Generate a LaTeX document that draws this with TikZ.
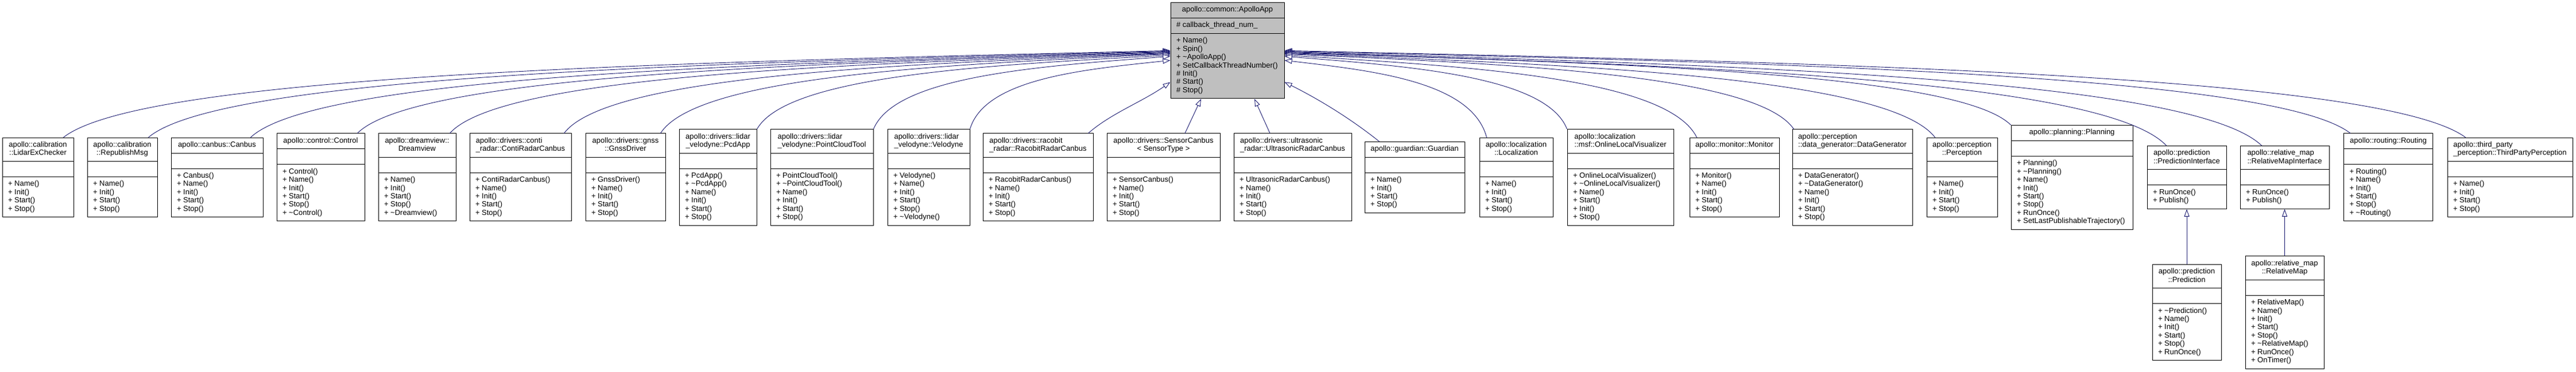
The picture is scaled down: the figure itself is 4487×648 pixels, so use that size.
\documentclass[tikz,border=0pt]{standalone}
\usepackage{fontspec}
\setmainfont{Liberation Sans}
\usetikzlibrary{shapes.multipart,arrows.meta}

\definecolor{edgeblue}{RGB}{25,25,112}
\definecolor{basegray}{RGB}{191,191,191}
\newcommand{\clsfont}{\fontsize{13pt}{14.4pt}\selectfont}
\newcommand{\cname}[1]{\begin{tabular}{@{}c@{}}#1\end{tabular}}
\newcommand{\lname}[1]{\begin{tabular}{@{}l@{}}#1\end{tabular}}
\newcommand{\mlist}[1]{\begin{tabular}{@{}l@{}}#1\end{tabular}}

\tikzset{
    cls/.style={rectangle split, rectangle split parts=3, draw=black, line width=1pt,
        fill=white, font=\clsfont, inner xsep=10pt, inner ysep=5.8pt,
        rectangle split part align={center,left,left}},
    inh/.style={edgeblue, line width=0.9pt,
        -{Triangle[open, fill=white, length=13pt, width=9pt]}}
}

\begin{document}
\begin{tikzpicture}[x=1pt, y=1pt]
    \path[use as bounding box, fill=white] (0,0) rectangle (4487,648);

    % base class
    \node[cls, fill=basegray, minimum width=198pt] (app) at (2138,559.7)
        {apollo::common::ApolloApp\strut
        \nodepart{second}\# callback\_thread\_num\_\strut
        \nodepart{third}\mlist{+ Name()\\+ Spin()\\+ \textasciitilde ApolloApp()\\+ SetCallbackThreadNumber()\\\# Init()\\\# Start()\\\# Stop()}};

    % derived classes
    \node[cls, minimum width=124pt] (lidar) at (66,338.5)
        {\cname{apollo::calibration\\::LidarExChecker}\nodepart{second}\strut
        \nodepart{third}\mlist{+ Name()\\+ Init()\\+ Start()\\+ Stop()}};
    \node[cls, minimum width=122pt] (repub) at (213,338.5)
        {\cname{apollo::calibration\\::RepublishMsg}\nodepart{second}\strut
        \nodepart{third}\mlist{+ Name()\\+ Init()\\+ Start()\\+ Stop()}};
    \node[cls, minimum width=160pt] (canbus) at (378,338.5)
        {apollo::canbus::Canbus\strut\nodepart{second}\strut
        \nodepart{third}\mlist{+ Canbus()\\+ Name()\\+ Init()\\+ Start()\\+ Stop()}};
    \node[cls, minimum width=153pt] (control) at (558.5,338.5)
        {apollo::control::Control\strut\nodepart{second}\strut
        \nodepart{third}\mlist{+ Control()\\+ Name()\\+ Init()\\+ Start()\\+ Stop()\\+ \textasciitilde Control()}};
    \node[cls, minimum width=135pt] (dream) at (726.5,338.5)
        {\cname{apollo::dreamview::\\Dreamview}\nodepart{second}\strut
        \nodepart{third}\mlist{+ Name()\\+ Init()\\+ Start()\\+ Stop()\\+ \textasciitilde Dreamview()}};
    \node[cls, minimum width=177pt] (conti) at (906.5,338.5)
        {\lname{apollo::drivers::conti\\\_radar::ContiRadarCanbus}\nodepart{second}\strut
        \nodepart{third}\mlist{+ ContiRadarCanbus()\\+ Name()\\+ Init()\\+ Start()\\+ Stop()}};
    \node[cls, minimum width=139pt] (gnss) at (1089.5,338.5)
        {\cname{apollo::drivers::gnss\\::GnssDriver}\nodepart{second}\strut
        \nodepart{third}\mlist{+ GnssDriver()\\+ Name()\\+ Init()\\+ Start()\\+ Stop()}};
    \node[cls, minimum width=135pt] (pcd) at (1250.5,338.5)
        {\cname{apollo::drivers::lidar\\\_velodyne::PcdApp}\nodepart{second}\strut
        \nodepart{third}\mlist{+ PcdApp()\\+ \textasciitilde PcdApp()\\+ Name()\\+ Init()\\+ Start()\\+ Stop()}};
    \node[cls, minimum width=179pt] (pcl) at (1431.5,338.5)
        {\lname{apollo::drivers::lidar\\\_velodyne::PointCloudTool}\nodepart{second}\strut
        \nodepart{third}\mlist{+ PointCloudTool()\\+ \textasciitilde PointCloudTool()\\+ Name()\\+ Init()\\+ Start()\\+ Stop()}};
    \node[cls, minimum width=143pt] (velo) at (1617.5,338.5)
        {\lname{apollo::drivers::lidar\\\_velodyne::Velodyne}\nodepart{second}\strut
        \nodepart{third}\mlist{+ Velodyne()\\+ Name()\\+ Init()\\+ Start()\\+ Stop()\\+ \textasciitilde Velodyne()}};
    \node[cls, minimum width=192pt] (racobit) at (1808,338.5)
        {\lname{apollo::drivers::racobit\\\_radar::RacobitRadarCanbus}\nodepart{second}\strut
        \nodepart{third}\mlist{+ RacobitRadarCanbus()\\+ Name()\\+ Init()\\+ Start()\\+ Stop()}};
    \node[cls, minimum width=197pt] (sensor) at (2026.5,338.5)
        {\cname{apollo::drivers::SensorCanbus\\< SensorType >}\nodepart{second}\strut
        \nodepart{third}\mlist{+ SensorCanbus()\\+ Name()\\+ Init()\\+ Start()\\+ Stop()}};
    \node[cls, minimum width=205pt] (ultra) at (2251.5,338.5)
        {\lname{apollo::drivers::ultrasonic\\\_radar::UltrasonicRadarCanbus}\nodepart{second}\strut
        \nodepart{third}\mlist{+ UltrasonicRadarCanbus()\\+ Name()\\+ Init()\\+ Start()\\+ Stop()}};
    \node[cls, minimum width=174pt] (guard) at (2464,338.5)
        {apollo::guardian::Guardian\strut\nodepart{second}\strut
        \nodepart{third}\mlist{+ Name()\\+ Init()\\+ Start()\\+ Stop()}};
    \node[cls, minimum width=128pt] (local) at (2641,338.5)
        {\cname{apollo::localization\\::Localization}\nodepart{second}\strut
        \nodepart{third}\mlist{+ Name()\\+ Init()\\+ Start()\\+ Stop()}};
    \node[cls, minimum width=185pt] (online) at (2822.5,338.5)
        {\lname{apollo::localization\\::msf::OnlineLocalVisualizer}\nodepart{second}\strut
        \nodepart{third}\mlist{+ OnlineLocalVisualizer()\\+ \textasciitilde OnlineLocalVisualizer()\\+ Name()\\+ Start()\\+ Init()\\+ Stop()}};
    \node[cls, minimum width=156pt] (monitor) at (3021,338.5)
        {apollo::monitor::Monitor\strut\nodepart{second}\strut
        \nodepart{third}\mlist{+ Monitor()\\+ Name()\\+ Init()\\+ Start()\\+ Stop()}};
    \node[cls, minimum width=209pt] (datagen) at (3226.5,338.5)
        {\lname{apollo::perception\\::data\_generator::DataGenerator}\nodepart{second}\strut
        \nodepart{third}\mlist{+ DataGenerator()\\+ \textasciitilde DataGenerator()\\+ Name()\\+ Init()\\+ Start()\\+ Stop()}};
    \node[cls, minimum width=123pt] (percep) at (3417.5,338.5)
        {\cname{apollo::perception\\::Perception}\nodepart{second}\strut
        \nodepart{third}\mlist{+ Name()\\+ Init()\\+ Start()\\+ Stop()}};
    \node[cls, minimum width=212pt] (planning) at (3609,338.5)
        {apollo::planning::Planning\strut\nodepart{second}\strut
        \nodepart{third}\mlist{+ Planning()\\+ \textasciitilde Planning()\\+ Name()\\+ Init()\\+ Start()\\+ Stop()\\+ RunOnce()\\+ SetLastPublishableTrajectory()}};
    \node[cls, minimum width=138pt] (predif) at (3809,338.5)
        {\lname{apollo::prediction\\::PredictionInterface}\nodepart{second}\strut
        \nodepart{third}\mlist{+ RunOnce()\\+ Publish()}};
    \node[cls, minimum width=155pt] (relif) at (3979.5,338.5)
        {\lname{apollo::relative\_map\\::RelativeMapInterface}\nodepart{second}\strut
        \nodepart{third}\mlist{+ RunOnce()\\+ Publish()}};
    \node[cls, minimum width=155pt] (routing) at (4160,338.5)
        {apollo::routing::Routing\strut\nodepart{second}\strut
        \nodepart{third}\mlist{+ Routing()\\+ Name()\\+ Init()\\+ Start()\\+ Stop()\\+ \textasciitilde Routing()}};
    \node[cls, minimum width=218pt] (third) at (4372,338.5)
        {\lname{apollo::third\_party\\\_perception::ThirdPartyPerception}\nodepart{second}\strut
        \nodepart{third}\mlist{+ Name()\\+ Init()\\+ Start()\\+ Stop()}};

    % second level
    \node[cls, minimum width=120pt] (pred) at (3809,103)
        {\cname{apollo::prediction\\::Prediction}\nodepart{second}\strut
        \nodepart{third}\mlist{+ \textasciitilde Prediction()\\+ Name()\\+ Init()\\+ Start()\\+ Stop()\\+ RunOnce()}};
    \node[cls, minimum width=137pt] (relmap) at (3979.5,103)
        {\cname{apollo::relative\_map\\::RelativeMap}\nodepart{second}\strut
        \nodepart{third}\mlist{+ RelativeMap()\\+ Name()\\+ Init()\\+ Start()\\+ Stop()\\+ \textasciitilde RelativeMap()\\+ RunOnce()\\+ OnTimer()}};

    % inheritance edges
    \foreach \n/\s/\e/\ax/\ay/\bx/\by in {lidar/-18/0/141/111/-839/-20,
        repub/-16/-1/130/110/-775/-20, canbus/-22/-2/117/109/-697/-20,
        control/-13/-3/103/103/-616/-19, dream/-11/-4/92/103/-546/-19,
        conti/-13/-5/77/102/-460/-18, gnss/-9/-6/65/101/-387/-18,
        pcd/0/-8/53/94/-314/-17, pcl/0/-10/38/93/-225/-17,
        velo/0/-17/26/88/-152/-16, racobit/-9/-55/40/35/-50/-35}
    {
        \draw[inh] ([xshift=\s pt]\n.north east)
            .. controls +(\ax,\ay) and +(\bx,\by) .. ([yshift=\e pt]app.west);
    }
    \foreach \n/\s/\e/\ax/\ay/\bx/\by in {third/32/0/-150/111/895/-20,
        routing/12/-1/-136/105/808/-19, relif/38/-2/-124/120/741/-22,
        predif/34/-3/-112/119/669/-22, planning/0/-4/-92/92/551/-17,
        percep/15/-5/-83/107/493/-19, datagen/3/-6/-65/96/386/-17,
        monitor/13/-8/-52/105/312/-19, online/0/-10/-36/93/214/-17,
        local/13/-17/-26/98/153/-18, guard/26/-55/-50/40/60/-30}
    {
        \draw[inh] ([xshift=\s pt]\n.north west)
            .. controls +(\ax,\ay) and +(\bx,\by) .. ([yshift=\e pt]app.east);
    }
    \draw[inh] ([xshift=37.5pt]sensor.north) -- ([xshift=-46pt]app.south);
    \draw[inh] ([xshift=-39.5pt]ultra.north) -- ([xshift=47pt]app.south);
    \draw[inh] (pred.north) -- (predif.south);
    \draw[inh] (relmap.north) -- (relif.south);
\end{tikzpicture}
\end{document}
